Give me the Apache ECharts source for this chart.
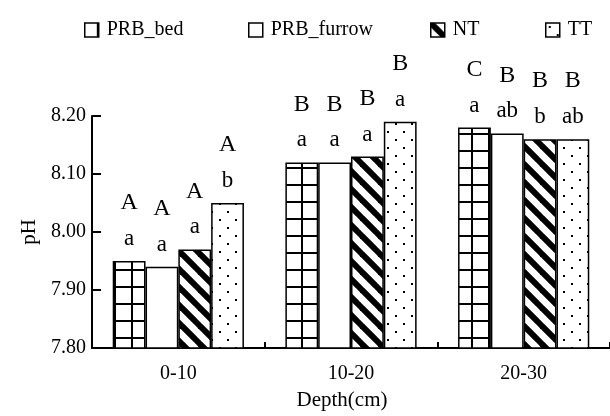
<!DOCTYPE html>
<html>
<head>
<meta charset="utf-8">
<script src="https://cdn.jsdelivr.net/npm/echarts@6/dist/echarts.min.js"></script>
<style>
html,body{margin:0;padding:0;background:#fff;}
#chart{width:610px;height:416px;}
</style>
</head>
<body>
<div id="chart"></div>
<script>
// ---- data ----
const categories = ['0-10', '10-20', '20-30'];
const seriesNames = ['PRB_bed', 'PRB_furrow', 'NT', 'TT'];
const prbBed    = [7.95, 8.12, 8.18];
const prbFurrow = [7.94, 8.12, 8.17];
const nt        = [7.97, 8.13, 8.16];
const tt        = [8.05, 8.19, 8.16];
const upperBed    = ['A', 'B', 'C'];
const upperFurrow = ['A', 'B', 'B'];
const upperNT     = ['A', 'B', 'B'];
const upperTT     = ['A', 'B', 'B'];
const lowerBed    = ['a', 'a', 'a'];
const lowerFurrow = ['a', 'a', 'ab'];
const lowerNT     = ['a', 'a', 'b'];
const lowerTT     = ['b', 'a', 'ab'];
const yTicks = [7.80, 7.90, 8.00, 8.10, 8.20];

// ---- patterns ----
function makeCanvas(w, h) {
  const c = document.createElement('canvas');
  c.width = w; c.height = h;
  const ctx = c.getContext('2d');
  ctx.fillStyle = '#fff';
  ctx.fillRect(0, 0, w, h);
  return [c, ctx];
}
function gridPattern() {
  const [c, ctx] = makeCanvas(17, 17);
  ctx.fillStyle = '#000';
  ctx.fillRect(12, 0, 2, 17);
  ctx.fillRect(0, 14, 17, 2);
  return c;
}
function stripePattern() {
  const s = 18;
  const [c, ctx] = makeCanvas(s, s);
  ctx.strokeStyle = '#000';
  ctx.lineWidth = 6;
  for (const x0 of [-s, 0, s]) {
    ctx.beginPath();
    ctx.moveTo(x0 - 2, -2);
    ctx.lineTo(x0 + s + 2, s + 2);
    ctx.stroke();
  }
  return c;
}
function dotPattern() {
  const [c, ctx] = makeCanvas(16, 16);
  ctx.fillStyle = '#000';
  ctx.fillRect(3, 3, 2, 2);
  ctx.fillRect(11, 11, 2, 2);
  return c;
}

const fills = [
  { image: gridPattern(), repeat: 'repeat' },
  '#ffffff',
  { image: stripePattern(), repeat: 'repeat' },
  { image: dotPattern(), repeat: 'repeat' }
];
const values = [prbBed, prbFurrow, nt, tt];
const uppers = [upperBed, upperFurrow, upperNT, upperTT];
const lowers = [lowerBed, lowerFurrow, lowerNT, lowerTT];

const FONT = 'Liberation Serif';

const series = seriesNames.map((name, i) => ({
  name: name,
  type: 'bar',
  barGap: '0%',
  barCategoryGap: '24%',
  itemStyle: { color: fills[i], borderColor: '#000', borderWidth: 1.5 },
  label: {
    show: true,
    position: 'top',
    distance: 4,
    formatter: p => '{u|' + uppers[i][p.dataIndex] + '}\n{l|' + lowers[i][p.dataIndex] + '}',
    rich: {
      u: { fontFamily: FONT, fontSize: 24, color: '#000', lineHeight: 36 },
      l: { fontFamily: FONT, fontSize: 23, color: '#000', lineHeight: 36 }
    }
  },
  data: values[i]
}));

const legendLefts = [84, 248, 430, 545];
const legends = seriesNames.map((name, i) => ({
  data: [name],
  left: legendLefts[i],
  top: 20,
  padding: 0,
  icon: 'rect',
  itemWidth: 14,
  itemHeight: 14,
  itemStyle: { borderColor: '#000', borderWidth: 1.5 },
  textStyle: { fontFamily: FONT, fontSize: 20, color: '#000', padding: [0, 0, 0, 3] },
  selectedMode: false
}));

const chart = echarts.init(document.getElementById('chart'), null, { renderer: 'canvas' });
chart.setOption({
  animation: false,
  backgroundColor: '#fff',
  legend: legends,
  grid: { left: 92, right: -10, top: 116, bottom: 64, containLabel: false },
  xAxis: {
    type: 'category',
    data: categories,
    name: 'Depth(cm)',
    nameLocation: 'middle',
    nameGap: 42,
    nameTextStyle: { fontFamily: FONT, fontSize: 21, color: '#000', padding: [0, 18, 0, 0] },
    axisLine: { lineStyle: { color: '#000', width: 2 } },
    axisTick: { show: true, inside: true, length: 6, lineStyle: { color: '#000', width: 2 } },
    axisLabel: { fontFamily: FONT, fontSize: 20, color: '#000', margin: 16 }
  },
  yAxis: {
    type: 'value',
    min: yTicks[0],
    max: yTicks[yTicks.length - 1],
    interval: 0.1,
    name: 'pH',
    nameLocation: 'middle',
    nameGap: 36,
    nameTextStyle: { fontFamily: FONT, fontSize: 21, color: '#000' },
    axisLine: { show: true, lineStyle: { color: '#000', width: 2 } },
    axisTick: { show: true, inside: true, length: 9, lineStyle: { color: '#000', width: 2 } },
    splitLine: { show: false },
    axisLabel: { fontFamily: FONT, fontSize: 20, color: '#000', margin: 6, formatter: v => v.toFixed(2) }
  },
  series: series
});
</script>
</body>
</html>
